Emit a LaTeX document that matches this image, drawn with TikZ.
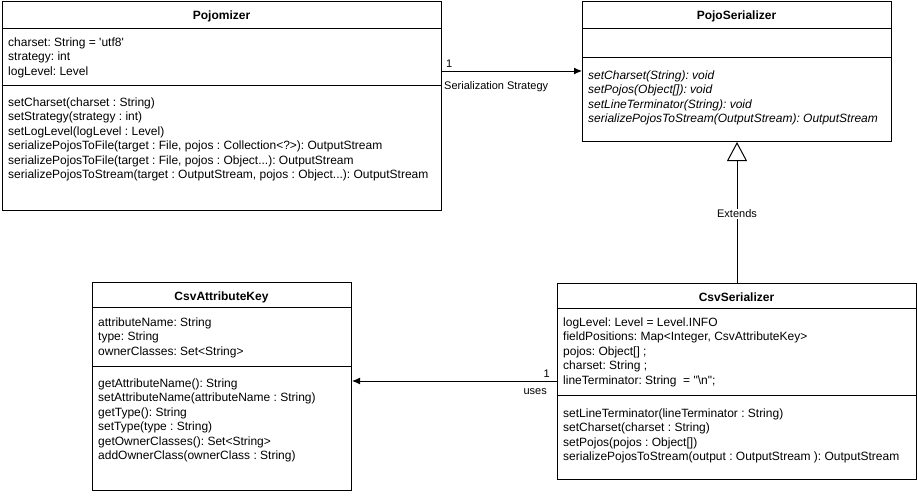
\documentclass[tikz,border=0pt]{standalone}
\usepackage{fontspec}
\setmainfont{Liberation Sans}
\frenchspacing
\usetikzlibrary{arrows.meta}

\begin{document}
\begin{tikzpicture}[x=1pt,y=1pt,font=\fontsize{11}{14.5}\selectfont]
        \tikzstyle{every node}+=[inner sep=0pt]
        \tikzstyle{classbox}=[draw=black, line width=1pt, anchor=north west]
        \tikzstyle{cname}=[anchor=base, font=\fontsize{12}{14.5}\selectfont\bfseries]
        \tikzstyle{members}=[anchor=base west, align=left, font=\fontsize{12}{14.5}\selectfont]
        \tikzstyle{assoc}=[black, line width=1pt, -{Latex[length=8pt,width=7pt]}]
        \tikzstyle{inherit}=[black, line width=1pt, -{Triangle[open,length=19pt,width=20pt,fill=white]}]
        \fill [white] (0,0) rectangle (918,-496);
        \useasboundingbox (0,0) rectangle (918,-496);
        % Pojomizer
        \node [classbox, minimum width=439pt, minimum height=209pt] (pojomizer) at (2,-1) {};
        \draw [black, line width=1pt] (2,-28) -- (441,-28);
        \draw [black, line width=1pt] (2,-85) -- (441,-85);
        \node [cname] (pojomizerName) at (221.5,-19) {Pojomizer};
        \node [members] (pojomizerAttr) at (8,-75) {charset: String = \textquotesingle utf8\textquotesingle\\strategy: int\\logLevel: Level};
        \node [members] (pojomizerOps) at (8,-178.5) {setCharset(charset : String)\\setStrategy(strategy : int)\\setLogLevel(logLevel : Level)\\serializePojosToFile(target : File, pojos : Collection<?>): OutputStream\\serializePojosToFile(target : File, pojos : Object...): OutputStream\\serializePojosToStream(target : OutputStream, pojos : Object...): OutputStream};
        % PojoSerializer
        \node [classbox, minimum width=309pt, minimum height=140pt] (pojoSerializer) at (582,-1) {};
        \draw [black, line width=1pt] (582,-28) -- (891,-28);
        \draw [black, line width=1pt] (582,-57) -- (891,-57);
        \node [cname] (pojoSerializerName) at (736.5,-19) {PojoSerializer};
        \node [members, font=\fontsize{12}{14.5}\selectfont\itshape] (pojoSerializerOps) at (588,-122.5) {setCharset(String): void\\setPojos(Object[]): void\\setLineTerminator(String): void\\serializePojosToStream(OutputStream): OutputStream};
        % CsvAttributeKey
        \node [classbox, minimum width=259pt, minimum height=208pt] (csvAttributeKey) at (92,-282) {};
        \draw [black, line width=1pt] (92,-307) -- (351,-307);
        \draw [black, line width=1pt] (92,-366) -- (351,-366);
        \node [cname] (csvAttributeKeyName) at (221.5,-300) {CsvAttributeKey};
        \node [members] (csvAttributeKeyAttr) at (98,-355) {attributeName: String\\type: String\\ownerClasses: Set<String>};
        \node [members] (csvAttributeKeyOps) at (98,-459.5) {getAttributeName(): String\\setAttributeName(attributeName : String)\\getType(): String\\setType(type : String)\\getOwnerClasses(): Set<String>\\addOwnerClass(ownerClass : String)};
        % CsvSerializer
        \node [classbox, minimum width=359pt, minimum height=196pt] (csvSerializer) at (557,-283) {};
        \draw [black, line width=1pt] (557,-308) -- (916,-308);
        \draw [black, line width=1pt] (557,-395) -- (916,-395);
        \node [cname] (csvSerializerName) at (736.5,-301) {CsvSerializer};
        \node [members] (csvSerializerAttr) at (563,-384) {logLevel: Level = Level.INFO\\fieldPositions: Map<Integer, CsvAttributeKey>\\pojos: Object[] ;\\charset: String ;\\lineTerminator: String \ = \textquotedbl\textbackslash n\textquotedbl;};
        \node [members] (csvSerializerOps) at (563,-460.5) {setLineTerminator(lineTerminator : String)\\setCharset(charset : String)\\setPojos(pojos : Object[])\\serializePojosToStream(output : OutputStream ): OutputStream};
        % connectors
        \draw [assoc] ([yshift=-70pt]pojomizer.north east) -- ([yshift=-70pt]pojoSerializer.north west);
        \node [anchor=base west] (strategyMult) at (446,-67) {1};
        \node [anchor=base west] (strategyLabel) at (444,-89) {Serialization Strategy};
        \draw [inherit] (csvSerializer.north) -- (pojoSerializer.south) node [pos=0.49, fill=white, inner sep=1pt] (extendsLabel) {Extends};
        \coordinate (usesStart) at ([yshift=-98pt]csvSerializer.north west);
        \draw [assoc] (usesStart) -- (csvAttributeKey.east |- usesStart);
        \node [anchor=base east] (usesMult) at (550,-377) {1};
        \node [anchor=base east] (usesLabel) at (547,-394) {uses};
\end{tikzpicture}
\end{document}
